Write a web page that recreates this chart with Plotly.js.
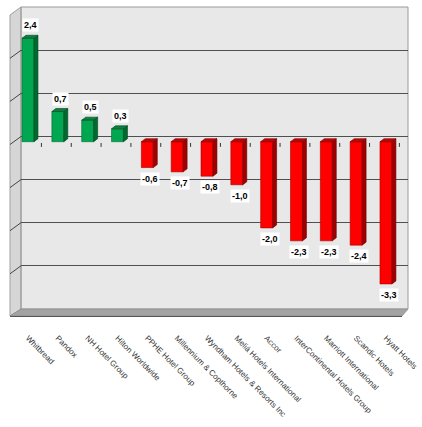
<!DOCTYPE html>
<html>
<head>
<meta charset="utf-8">
<script src="https://cdn.plot.ly/plotly-3.0.1.min.js"></script>
<style>html,body{margin:0;padding:0;background:#fff;}#chart{width:422px;height:427px;}</style>
</head>
<body>
<div id="chart"></div>
<script>
const companies = ["Whitbread","Pandox","NH Hotel Group","Hilton Worldwide","PPHE Hotel Group","Millennium & Copthorne","Wyndham Hotels & Resorts Inc","Meliá Hotels International","Accor","InterContinental Hotels Group","Marriott International","Scandic Hotels","Hyatt Hotels"];
const values = [2.4, 0.7, 0.5, 0.3, -0.6, -0.7, -0.8, -1.0, -2.0, -2.3, -2.3, -2.4, -3.3];
const gridValues = [-3, -2, -1, 0, 1, 2];

// geometry (pixels)
const W = 422, H = 427;
const PL = 21, PR = 408, PT = 7, PB = 309;
const PW = PR - PL, PHt = PB - PT;
const UNIT = 43.1;        // px per unit
const ZERO = 136.5;       // back wall zero line
const FRONT_SHIFT = 5.2;  // bars front zero lower by px
const CAT = 29.83;        // px per category
const FIRST = 28;         // first bar centre px

const yr = [(ZERO - PB) / UNIT, (ZERO - PT) / UNIT];
const sh = FRONT_SHIFT / UNIT;
const y2r = [yr[0] + sh, yr[1] + sh];
const xr = [(PL - FIRST) / CAT, (PR - FIRST) / CAT];

const idx = companies.map((c, i) => i);
const hw = 0.2, dx = 4 / CAT, dy = 3 / UNIT;

function faces(sign) {
  const side = {x: [], y: []}, top = {x: [], y: []};
  values.forEach((v, i) => {
    if ((v >= 0) !== (sign > 0)) return;
    side.x.push(i + hw, i + hw + dx, i + hw + dx, i + hw, i + hw, null);
    side.y.push(0, dy, v + dy, v, 0, null);
    const t = Math.max(v, 0);
    top.x.push(i - hw, i - hw + dx, i + hw + dx, i + hw, i - hw, null);
    top.y.push(t, t + dy, t + dy, t, t, null);
  });
  return {side, top};
}
const pos = faces(1), neg = faces(-1);

const greenFront = '#00a650', greenSide = '#006a30', greenTop = '#0c8040';
const redFront = '#ff0000', redSide = '#a00000', redTop = '#c80000';

function poly(f, fill, line) {
  return {type: 'scatter', mode: 'lines', x: f.x, y: f.y, yaxis: 'y2', fill: 'toself',
          fillcolor: fill, line: {color: line, width: 0.6}, hoverinfo: 'skip', showlegend: false};
}

const traces = [
  {type: 'bar', x: idx, y: values, yaxis: 'y2', width: 0.4,
   marker: {color: values.map(v => v >= 0 ? greenFront : redFront),
            line: {color: values.map(v => v >= 0 ? '#006a30' : '#a00000'), width: 0.6}},
   hoverinfo: 'skip', showlegend: false},
  poly(pos.side, greenSide, '#00451f'),
  poly(pos.top, greenTop, '#00451f'),
  poly(neg.side, redSide, '#700000'),
  poly(neg.top, redTop, '#700000')
];

const px = p => (p - PL) / PW;
const py = p => (PB - p) / PHt;

const shapes = [
  // left side wall
  {type: 'path', xref: 'paper', yref: 'paper', layer: 'below',
   path: `M ${px(10)},${py(15)} L ${px(21)},${py(7)} L ${px(21)},${py(309)} L ${px(10)},${py(316)} Z`,
   fillcolor: '#d6d6d6', line: {color: '#a0a0a0', width: 1}},
  // floor front band
  {type: 'path', xref: 'paper', yref: 'paper', layer: 'below',
   path: `M ${px(21)},${py(309)} L ${px(408)},${py(309)} L ${px(402)},${py(316)} L ${px(10)},${py(316)} Z`,
   fillcolor: '#a3a3a3', line: {color: '#8a8a8a', width: 0.8}},
  {type: 'line', xref: 'paper', yref: 'paper', x0: px(10), x1: px(402), y0: py(316.5), y1: py(316.5),
   line: {color: '#555', width: 1}},
  // wall border
  {type: 'rect', xref: 'paper', yref: 'paper', x0: 0, x1: 1, y0: 0, y1: 1, layer: 'below',
   line: {color: '#9a9a9a', width: 1}}
];
gridValues.forEach(g => {
  shapes.push({type: 'line', xref: 'paper', yref: 'y', x0: 0, x1: px(10), y0: g, y1: g - 8 / UNIT,
               line: {color: '#444', width: 1}});
});
for (let k = 1; k <= 13; k++) {
  shapes.push({type: 'line', xref: 'x', yref: 'y2', x0: k - 0.55, x1: k - 0.55, y0: -0.03, y1: -0.12,
               line: {color: '#333', width: 1}});
}

const annotations = values.map((v, i) => ({
  x: i + 0.1, y: v, xref: 'x', yref: 'y2', showarrow: false,
  text: '<b>' + v.toFixed(1).replace('.', ',') + '</b>',
  yshift: v >= 0 ? 13 : -11,
  bgcolor: '#ffffff', borderpad: 1,
  font: {family: 'Liberation Sans, Arial, sans-serif', size: 9, color: '#000'}
}));

const layout = {
  width: W, height: H,
  margin: {l: PL, r: W - PR, t: PT, b: H - PB, pad: 0},
  paper_bgcolor: '#ffffff', plot_bgcolor: '#e8e8e8',
  showlegend: false, barmode: 'overlay', hovermode: false,
  xaxis: {range: xr, tickmode: 'array', tickvals: idx, ticktext: companies, tickangle: 45,
          showgrid: false, zeroline: false, showline: false, ticks: '', ticklabelstandoff: 22,
          ticklabeloverflow: 'allow',
          tickfont: {family: 'Liberation Sans, Arial, sans-serif', size: 8, color: '#333333'}},
  yaxis: {range: yr, tickmode: 'array', tickvals: gridValues, showticklabels: false, ticks: '',
          showgrid: true, gridcolor: '#505050', gridwidth: 1, zeroline: false, showline: false},
  yaxis2: {range: y2r, overlaying: 'y', visible: false, showgrid: false, zeroline: false},
  shapes: shapes, annotations: annotations
};

Plotly.newPlot('chart', traces, layout, {staticPlot: true, displayModeBar: false});
</script>
</body>
</html>
